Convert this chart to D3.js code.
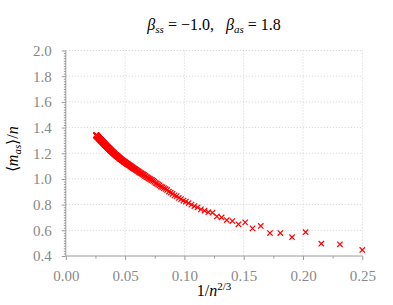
<!DOCTYPE html>
<html>
<head>
<meta charset="utf-8">
<script src="https://cdn.jsdelivr.net/npm/d3@7"></script>
<style>
  body { margin: 0; background: #fff; }
</style>
</head>
<body>
<div id="chart"></div>
<script>
// system sizes n (x = 1/n^(2/3)) and measured <m_as>/n
const sizes = [
  8, 9, 10, 11, 12, 13, 14, 15, 16, 17, 18, 19, 20, 21, 22, 23, 24, 25, 26, 27, 28, 29,
  30, 31, 32, 33, 34, 35, 36, 37, 38, 39, 40, 41, 42, 43, 44, 45, 46, 47, 48, 49,
  50, 51, 52, 53, 54, 55, 56, 57, 58, 59, 60, 61, 62, 63, 64, 65, 66, 67, 68, 69,
  70, 71, 72, 73, 74, 75, 76, 77, 78, 79, 80, 81, 82, 83, 84, 85, 86, 87, 88, 89,
  90, 91, 92, 93, 94, 95, 96, 97, 98, 99, 100, 101, 102, 103, 104, 105, 106, 107, 108, 109,
  110, 111, 112, 113, 114, 115, 116, 117, 118, 119, 120, 121, 122, 123, 124, 125, 126, 127, 128, 129,
  130, 131, 132, 133, 134, 135, 136, 137, 138, 139, 140, 141, 142, 143, 144, 145, 146, 147, 148, 149,
  150, 151, 152, 153, 154, 155, 156, 157, 158, 159, 160, 161, 162, 163, 164, 165, 166, 167, 168, 169,
  170, 171, 172, 173, 174, 175, 176, 177, 178, 179, 180, 181, 182, 183, 184, 185, 186, 187, 188, 189,
  190, 191, 192, 193, 194, 195, 196, 197, 198, 199, 200, 201, 202, 203, 204, 205, 206, 207, 208, 209,
  210, 211, 212, 213, 214, 215, 216, 217, 218, 219, 220, 221, 222, 223, 224, 225, 226, 227, 228, 229,
  230, 231, 232, 233, 234, 235, 236, 237, 238, 239, 240, 241, 242, 243, 244, 245
];
const mAs = [
  0.447, 0.491, 0.496, 0.585, 0.546, 0.579, 0.579, 0.634, 0.615, 0.662, 0.647, 0.672, 0.680, 0.700, 0.708, 0.737, 0.741, 0.753, 0.763, 0.779, 0.789, 0.800,
  0.812, 0.824, 0.832, 0.843, 0.852, 0.866, 0.872, 0.884, 0.893, 0.902, 0.914, 0.922, 0.928, 0.936, 0.941, 0.950, 0.956, 0.964, 0.969, 0.977,
  0.984, 0.990, 0.994, 1.000, 1.004, 1.010, 1.014, 1.020, 1.024, 1.030, 1.035, 1.038, 1.043, 1.046, 1.050, 1.054, 1.058, 1.062, 1.065, 1.070,
  1.073, 1.077, 1.079, 1.083, 1.086, 1.089, 1.092, 1.096, 1.098, 1.102, 1.105, 1.108, 1.110, 1.113, 1.115, 1.118, 1.120, 1.123, 1.125, 1.128,
  1.130, 1.133, 1.135, 1.137, 1.140, 1.142, 1.145, 1.147, 1.149, 1.152, 1.154, 1.156, 1.159, 1.160, 1.163, 1.165, 1.167, 1.170, 1.171, 1.174,
  1.176, 1.178, 1.180, 1.181, 1.184, 1.185, 1.188, 1.189, 1.191, 1.193, 1.195, 1.197, 1.199, 1.200, 1.202, 1.204, 1.206, 1.207, 1.209, 1.211,
  1.213, 1.215, 1.216, 1.218, 1.220, 1.221, 1.223, 1.225, 1.226, 1.228, 1.230, 1.232, 1.233, 1.234, 1.236, 1.238, 1.239, 1.240, 1.242, 1.244,
  1.245, 1.247, 1.248, 1.249, 1.251, 1.252, 1.253, 1.255, 1.256, 1.258, 1.259, 1.261, 1.262, 1.263, 1.264, 1.266, 1.267, 1.268, 1.269, 1.271,
  1.272, 1.273, 1.275, 1.276, 1.277, 1.278, 1.279, 1.280, 1.282, 1.283, 1.284, 1.285, 1.286, 1.287, 1.288, 1.290, 1.291, 1.292, 1.293, 1.294,
  1.295, 1.296, 1.297, 1.298, 1.299, 1.300, 1.301, 1.302, 1.303, 1.304, 1.305, 1.306, 1.307, 1.308, 1.309, 1.310, 1.310, 1.311, 1.312, 1.313,
  1.314, 1.315, 1.316, 1.317, 1.318, 1.318, 1.319, 1.320, 1.321, 1.322, 1.323, 1.324, 1.325, 1.325, 1.326, 1.327, 1.328, 1.329, 1.329, 1.330,
  1.331, 1.332, 1.332, 1.333, 1.334, 1.334, 1.335, 1.336, 1.336, 1.337, 1.338, 1.339, 1.339, 1.340, 1.341, 1.342
];
const xTicks = [0, 0.05, 0.1, 0.15, 0.2, 0.25];
const xMinor = [0.025, 0.075, 0.125, 0.175, 0.225];
const yTicks = [0.4, 0.6, 0.8, 1.0, 1.2, 1.4, 1.6, 1.8, 2.0];

const FONT = "Liberation Serif";

const W = 393, H = 305;
const margin = { top: 50.5, right: 30.7, bottom: 49, left: 65.8 },
  width = W - margin.left - margin.right,
  height = H - margin.top - margin.bottom;

const svg = d3.select("#chart").append("svg")
  .attr("width", W)
  .attr("height", H)
  .attr("font-family", FONT);

const g = svg.append("g")
  .attr("transform", `translate(${margin.left}, ${margin.top})`);

const x = d3.scaleLinear().domain([0, 0.25]).range([0, width]);
const y = d3.scaleLinear().domain([0.4, 2.0]).range([height, 0]);

const axisColor = "#9a9a9a";
const labelColor = "#888888";

// grid
g.append("g")
  .selectAll("line")
  .data(xTicks.slice(1))
  .join("line")
  .attr("x1", d => x(d)).attr("x2", d => x(d))
  .attr("y1", 0).attr("y2", height)
  .attr("stroke", "#d0d0d0")
  .attr("stroke-dasharray", "1,2");

g.append("g")
  .selectAll("line")
  .data(yTicks.slice(1))
  .join("line")
  .attr("x1", 0).attr("x2", width)
  .attr("y1", d => y(d)).attr("y2", d => y(d))
  .attr("stroke", "#d0d0d0")
  .attr("stroke-dasharray", "1,2");

// minor ticks
const yMinor = d3.range(0.42, 2.0, 0.02).filter(v => Math.abs(v * 5 - Math.round(v * 5)) > 1e-6);

g.append("g")
  .call(d3.axisLeft(y).tickValues(yMinor).tickSize(2).tickFormat(""))
  .call(s => s.select(".domain").remove())
  .selectAll("line").attr("stroke", axisColor);

g.append("g")
  .attr("transform", `translate(0, ${height})`)
  .call(d3.axisBottom(x).tickValues(xMinor).tickSize(2.5).tickFormat(""))
  .call(s => s.select(".domain").remove())
  .selectAll("line").attr("stroke", axisColor);

// major axes
const yAxis = g.append("g")
  .call(d3.axisLeft(y).tickValues(yTicks).tickSize(4).tickPadding(10).tickFormat(d3.format(".1f")));
yAxis.attr("font-family", FONT).attr("font-size", 15);
yAxis.select(".domain").attr("stroke", axisColor).attr("d", `M0,${height}V0`);
yAxis.selectAll("line").attr("stroke", axisColor);
yAxis.selectAll("text").attr("fill", labelColor).attr("font-family", FONT).attr("font-size", 15);

const xAxis = g.append("g")
  .attr("transform", `translate(0, ${height})`)
  .call(d3.axisBottom(x).tickValues(xTicks).tickSize(4).tickPadding(10).tickFormat(d3.format(".2f")));
xAxis.attr("font-family", FONT).attr("font-size", 15);
xAxis.select(".domain").attr("stroke", axisColor).attr("d", `M0,0H${width}`);
xAxis.selectAll("line").attr("stroke", axisColor);
xAxis.selectAll("text").attr("fill", labelColor).attr("font-family", FONT).attr("font-size", 15);

// markers
const pts = sizes.map((n, i) => ({ x: Math.pow(n, -2 / 3), y: mAs[i] }));
const r = 2.7;
g.append("g")
  .selectAll("path")
  .data(pts)
  .join("path")
  .attr("transform", d => `translate(${x(d.x)}, ${y(d.y)})`)
  .attr("d", `M${-r},${-r}L${r},${r}M${-r},${r}L${r},${-r}`)
  .attr("stroke", "#ff0000")
  .attr("stroke-width", 1.2)
  .attr("fill", "none");

// title
const title = svg.append("text")
  .attr("x", margin.left + width / 2)
  .attr("y", 30)
  .attr("text-anchor", "middle")
  .attr("font-size", 16)
  .attr("font-family", FONT)
  .attr("fill", "#000");
title.append("tspan").attr("font-style", "italic").text("β");
title.append("tspan").attr("font-style", "italic").attr("font-size", 11).attr("dy", 3).text("ss");
title.append("tspan").attr("dy", -3).text(" = −1.0,\u2002 ");
title.append("tspan").attr("font-style", "italic").text("β");
title.append("tspan").attr("font-style", "italic").attr("font-size", 11).attr("dy", 3).text("as");
title.append("tspan").attr("dy", -3).text(" = 1.8");

// y label
const yl = svg.append("text")
  .attr("transform", `translate(18, ${margin.top + height / 2 - 4}) rotate(-90)`)
  .attr("text-anchor", "middle")
  .attr("font-size", 16)
  .attr("font-family", FONT)
  .attr("fill", "#000");
yl.append("tspan").text("⟨");
yl.append("tspan").attr("font-style", "italic").text("m");
yl.append("tspan").attr("font-style", "italic").attr("font-size", 11).attr("dy", 3).text("as");
yl.append("tspan").attr("dy", -3).text("⟩/");
yl.append("tspan").attr("font-style", "italic").text("n");

// x label
const xl = svg.append("text")
  .attr("x", margin.left + width / 2)
  .attr("y", 296)
  .attr("text-anchor", "middle")
  .attr("font-size", 16)
  .attr("font-family", FONT)
  .attr("fill", "#000");
xl.append("tspan").text("1/");
xl.append("tspan").attr("font-style", "italic").text("n");
xl.append("tspan").attr("font-size", 11).attr("dy", -6).text("2/3");
</script>
</body>
</html>
